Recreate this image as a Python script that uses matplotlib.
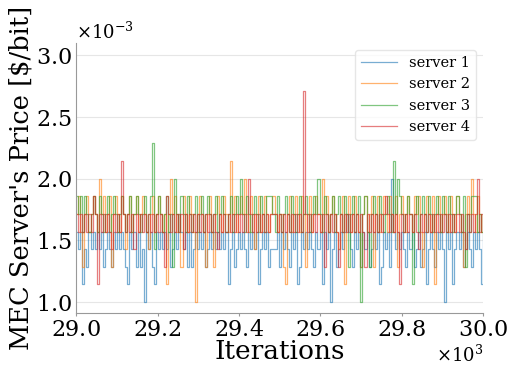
import matplotlib
matplotlib.use("Agg")
import matplotlib.pyplot as plt
import numpy as np

# price levels are multiples of 1/7 x 1e-3 : code k -> (1 + k/7) e-3, 'c' = 12
SERVER_1 = ("43413243434342343243" "43432143424230434214" "34343423435434242343"
            "43423434343434134234" "34324343413434233342" "43432434124343432434"
            "14340342343454324342" "43423434124342743434" "32434234234134324343"
            "04341343423432434314")
SERVER_2 = ("56425645654756456256" "54653564564565435645" "65451575645265465405"
            "65425642565465485645" "65754653564565456545" "52156456546525645654"
            "75645654356156456542" "56456256456546546256" "54654656425654615645"
            "65465465425657546545")
SERVER_3 = ("65646545654654564565" "45654564565456456935" "65456452754654654564"
            "56456545645654564565" "75465456546546665465" "45654654564565456575"
            "46545645654652564560" "56425654654565485765" "45651564565465456546"
            "54654565462546664545")
SERVER_4 = ("54545454651545454354" "54854545354545454545" "45426545454535454545"
            "45454545435454545454" "54547545454545455545" "45454545454c54545454"
            "52545454254545454545" "42545454545654545415" "45454543545454545454"
            "54545454543545457454")
labels = ["server 1", "server 2", "server 3", "server 4"]
series = [SERVER_1, SERVER_2, SERVER_3, SERVER_4]
colors = ["tab:blue", "tab:orange", "tab:green", "tab:red"]


def decode(s):
  return np.array([(1 + int(ch, 16) / 7.0) * 1e-3 for ch in s])


def main():
  plt.rcParams["font.family"] = "DejaVu Serif"
  plt.rcParams["mathtext.fontset"] = "dejavuserif"
  fig = plt.figure(figsize=(5.15, 3.65), dpi=100)
  ax = fig.add_axes([0.148, 0.142, 0.79, 0.74])

  for s, lab, c in zip(series, labels, colors):
    y = decode(s)
    x = np.linspace(29000, 30000, len(y))
    ax.plot(x, y, color=c, alpha=0.6, linewidth=0.9, label=lab,
            drawstyle="steps-post")

  ax.set_xlim(29000, 30000)
  ax.set_ylim(0.91e-3, 3.1e-3)
  ax.set_xticks([29000, 29200, 29400, 29600, 29800, 30000])
  ax.set_yticks([1.0e-3, 1.5e-3, 2.0e-3, 2.5e-3, 3.0e-3])
  ax.ticklabel_format(style="sci", axis="x", scilimits=(3, 3), useMathText=True,
                      useOffset=False)
  ax.ticklabel_format(style="sci", axis="y", scilimits=(-3, -3), useMathText=True,
                      useOffset=False)
  ax.xaxis.get_offset_text().set_fontsize(13)
  ax.yaxis.get_offset_text().set_fontsize(13)

  ax.grid(axis="y", color="#e6e6e6", linewidth=0.8)
  ax.set_axisbelow(True)
  for side in ["top", "right"]:
    ax.spines[side].set_visible(False)
  for side in ["left", "bottom"]:
    ax.spines[side].set_color("#999999")
  ax.tick_params(axis="x", labelsize=16, length=2, color="#999999", pad=2)
  ax.tick_params(axis="y", labelsize=16, length=0, pad=3)

  ax.set_xlabel("Iterations", fontsize=19, labelpad=-1)
  ax.set_ylabel("MEC Server's Price [$/bit]", fontsize=18.5, labelpad=2)
  ax.legend(loc="upper right", fontsize=10.5, framealpha=0.8,
            edgecolor="#e0e0e0", handlelength=2.5)

  fig.savefig("out.png")


if __name__ == '__main__':
  main()
